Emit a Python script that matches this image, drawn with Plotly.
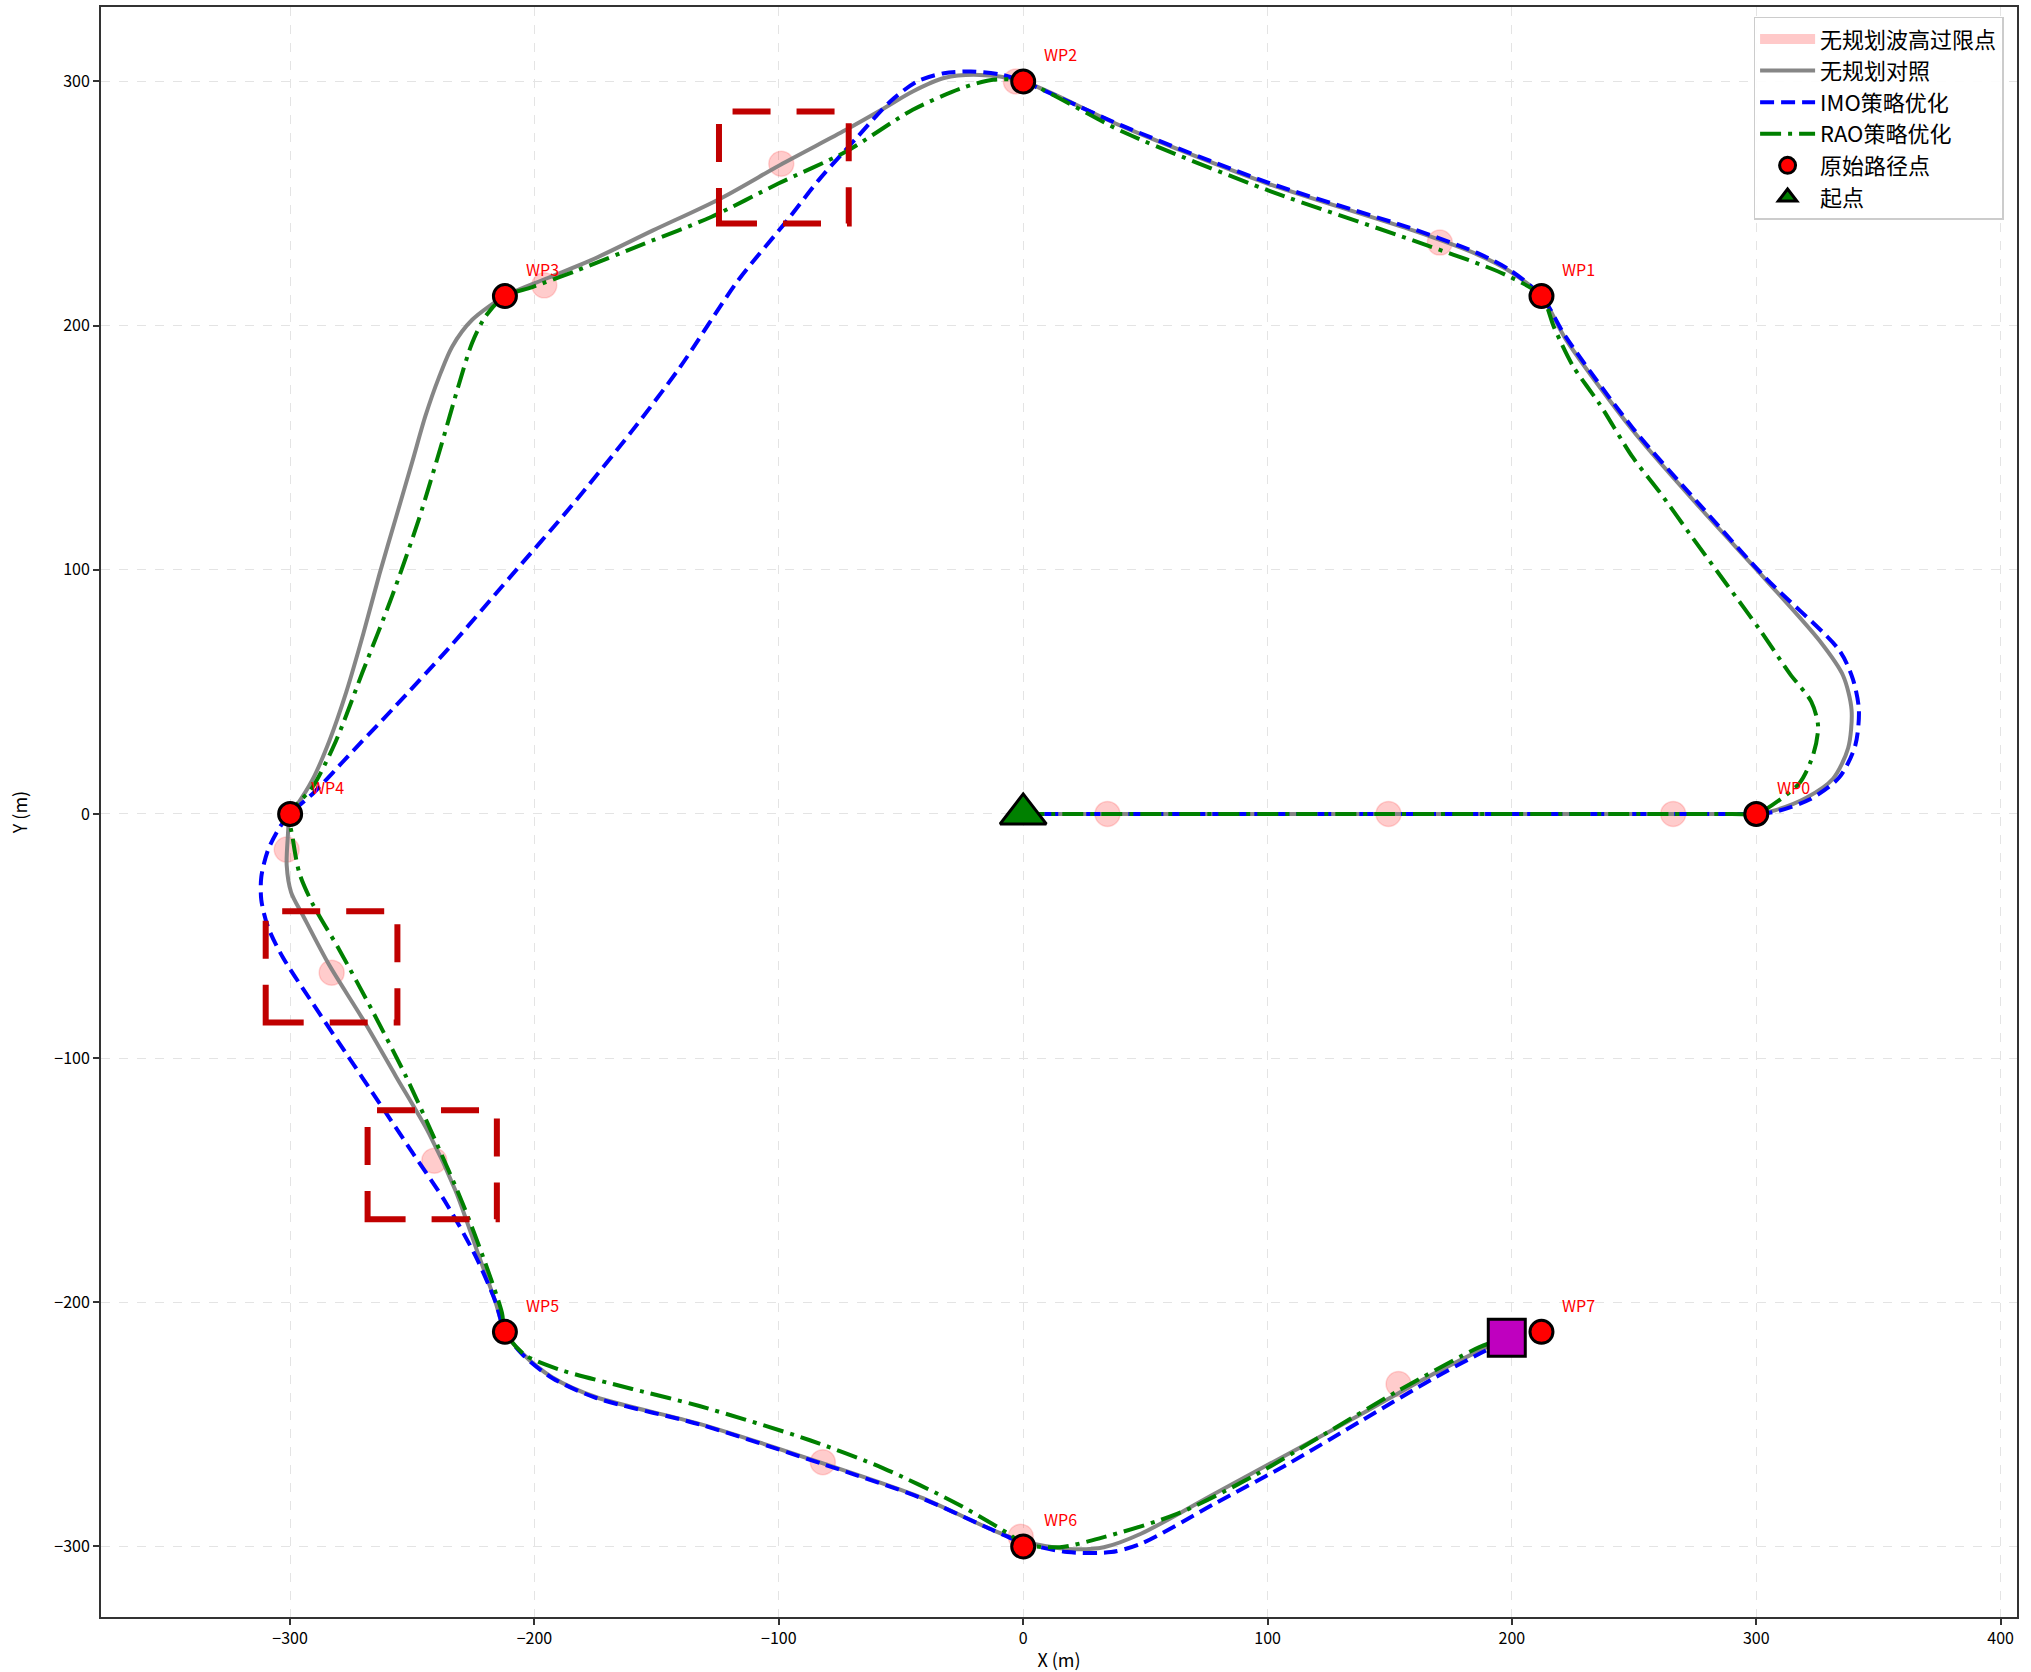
import plotly.graph_objects as go

# waypoints
wp_x = [300, 212.1, 0, -212.1, -300, -212.1, 0, 212.1]
wp_y = [0, 212.1, 300, 212.1, 0, -212.1, -300, -212.1]
wp_names = ["WP0", "WP1", "WP2", "WP3", "WP4", "WP5", "WP6", "WP7"]

start_x, start_y = [0], [0]
end_x, end_y = [197.9], [-214.5]

# 无规划对照
gray_x = [0, 150, 290, 300, 308, 320.5, 331.4, 337.6, 339, 335.5, 326, 304, 276.8, 249.5, 222, 212.1,
          198.8, 185.3, 159.8, 100.5, 41.2, 0,
          -17.8, -32.4, -45.2, -58, -72.7, -98.4, -124, -151.5, -177, -195.4, -212.1,
          -225.5, -233.7, -239.1, -244.6, -250, -256.8, -263.5, -270, -277, -284, -290.8, -297.6, -300,
          -301, -301.4, -299.6, -294.8, -284, -270.4, -256.8, -243.2, -232.3, -222.8, -216, -212.1,
          -204.8, -192.8, -174.7, -132.5, -81.3, -42.2, -12, 0, 18, 33, 48.2, 78.3, 108.4, 138.6,
          162.7, 186.7, 197.9]
gray_y = [0, 0, 0, 0, 1.6, 6.6, 14.4, 27, 42.6, 56.7, 70.8, 95.8, 125.6, 157, 194.5, 212.1,
          222.5, 229.4, 238.9, 258, 281.3, 300,
          302.7, 301.4, 295.9, 288.4, 280.1, 266.4, 252, 239, 226.7, 219.2, 212.1,
          202.4, 191.4, 178.8, 163.1, 144.3, 121, 98, 74, 50, 29.8, 14.1, 3.1, 0,
          -10.2, -21.1, -32.1, -41.5, -61.9, -83.8, -107.3, -130.8, -154.3, -180.9, -199.7, -212.1,
          -221.1, -230.7, -238.9, -249.8, -266.2, -279.8, -293.5, -298, -301, -300.3, -294.8, -278.4,
          -262.1, -245.7, -232.1, -219.8, -214.5]

# IMO策略优化
imo_x = [0, 150, 290, 300, 308, 322, 334, 340.5, 342, 339.6, 334, 304, 277, 249.5, 222, 212.1,
         198.8, 185.3, 159.8, 100.5, 41.2, 0,
         -8.6, -21.4, -32.4, -43.4, -54.4, -69, -83.7, -96.5, -116.7, -140.5, -160, -185, -210, -235,
         -258, -276, -290, -300,
         -304.3, -309.1, -311.8, -311.8, -309.1, -303, -290.8, -277.2, -263.6, -250, -236.4, -224.2,
         -216, -212.1,
         -204.8, -192.8, -174.7, -132.5, -81.3, -42.2, -12, 0, 18, 36, 48.2, 78.3, 108.4, 138.6,
         168.7, 186.7, 197.9]
imo_y = [0, 0, 0, 0, 1, 6, 15, 28, 42.6, 55, 67, 96.5, 126.5, 158, 195.5, 212.1,
         223, 230, 239.5, 258.5, 281.6, 300,
         302.7, 304.1, 303.4, 300, 291.8, 276, 259.6, 243.2, 218.5, 182.9, 157, 126, 97, 68,
         43, 24, 9, 0,
         -5.5, -14.9, -25.8, -35.2, -46.2, -58.7, -77.5, -97.9, -118.2, -138.6, -159, -180.9,
         -199.7, -212.1,
         -221.5, -231, -239.2, -250, -266.5, -280, -293.5, -298.5, -302.3, -302.3, -298.9, -282.5,
         -266.2, -248.4, -230.7, -221.1, -215.5]

# RAO策略优化
rao_x = [0, 150, 290, 300, 304, 317.8, 323.5, 325.3, 322.5, 313.7, 301.4, 287.7, 274, 260.4, 249.5,
         235.8, 224.9, 217.3, 212.1,
         197, 159.8, 100.5, 41.2, 0,
         -12.3, -25, -45.2, -72.7, -100.2, -127.7, -155, -182.6, -200.9, -212.1,
         -220, -225.5, -231, -237.8, -247.3, -258.2, -270.4, -281.3, -290.8, -300,
         -298.9, -296.2, -290.8, -279.9, -266.3, -252.7, -240.5, -229.6, -220.1, -213.3, -212.1,
         -204, -190, -160, -132.5, -87.3, -57.2, -27.1, -6, 0, 15, 33, 63.2, 93.4, 123.5, 153.6,
         186.7, 197.9]
rao_y = [0, 0, 0, 0, 2, 12.8, 25, 36, 46, 57.5, 75.5, 94.3, 113, 131.9, 146,
         168, 183.6, 199.2, 212.1,
         221, 234.8, 255.3, 279.2, 300,
         300.7, 297.3, 288.4, 271.2, 258.2, 244.5, 233.6, 222.6, 215.8, 212.1,
         203.9, 193, 175.7, 152.2, 120.8, 89.4, 58, 29.8, 11, 0,
         -10.2, -24.3, -36.8, -55.6, -80.7, -107.3, -133.9, -159, -184, -204.4, -212.1,
         -221.5, -227.5, -235.5, -242.5, -256.5, -268, -282.5, -294.8, -299, -300.3, -296.2, -286.6,
         -271.6, -253.9, -236.2, -218.4, -214.5]

# 无规划波高过限点
exceed_x = [34.5, 149.5, 266, 170.5, -3, -99, -196, -301.4, -283, -241, -82, -1, 153.6]
exceed_y = [0, 0, 0, 234, 300, 266.3, 216.5, -14.6, -65, -142, -265.5, -296, -233.5]

# highlighted regions (x0, x1, y0, y1)
box_x0 = [-124.5, -310, -268.3]
box_x1 = [-71.4, -256.1, -215.4]
box_y0 = [241.8, -85.4, -166]
box_y1 = [287.7, -39.9, -121.4]

CJK = "Noto Sans CJK SC, DejaVu Sans, sans-serif"

fig = go.Figure()

fig.add_trace(go.Scatter(
    x=[None], y=[None], mode="lines", name="无规划波高过限点",
    line=dict(color="rgba(255,120,120,0.4)", width=14),
))
fig.add_trace(go.Scatter(
    x=exceed_x, y=exceed_y, mode="markers", showlegend=False,
    marker=dict(size=25, color="rgba(255,0,0,0.2)",
                line=dict(color="rgba(255,0,0,0.15)", width=1.5)),
))
fig.add_trace(go.Scatter(
    x=gray_x, y=gray_y, mode="lines", name="无规划对照",
    line=dict(color="rgba(128,128,128,0.95)", width=4, shape="spline", smoothing=0.8),
))
fig.add_trace(go.Scatter(
    x=imo_x, y=imo_y, mode="lines", name="IMO策略优化",
    line=dict(color="#0000ff", width=4, dash="14px,7px", shape="spline", smoothing=0.8),
))
fig.add_trace(go.Scatter(
    x=rao_x, y=rao_y, mode="lines", name="RAO策略优化",
    line=dict(color="#008000", width=4, dash="21px,7px,4px,7px", shape="spline", smoothing=0.8),
))
fig.add_trace(go.Scatter(
    x=wp_x, y=wp_y, mode="markers", name="原始路径点",
    marker=dict(size=23, color="#ff0000", line=dict(color="black", width=3)),
))
fig.add_trace(go.Scatter(
    x=start_x, y=start_y, mode="markers", name="起点",
    marker=dict(size=40, symbol="triangle-up", color="#008000", line=dict(color="black", width=3)),
))
fig.add_trace(go.Scatter(
    x=end_x, y=end_y, mode="markers", showlegend=False,
    marker=dict(size=37, symbol="square", color="#bf00bf", line=dict(color="black", width=3)),
))

for x, y, name in zip(wp_x, wp_y, wp_names):
    fig.add_annotation(x=x, y=y, text=name, showarrow=False, xanchor="left", yanchor="middle",
                       xshift=19, yshift=27, font=dict(color="#ff0000", size=16, family=CJK))

for x0, x1, y0, y1 in zip(box_x0, box_x1, box_y0, box_y1):
    fig.add_shape(type="rect", x0=x0, x1=x1, y0=y0, y1=y1,
                  line=dict(color="#c00000", width=6, dash="38px,26px"))

axis_style = dict(
    showline=True, linecolor="#333333", linewidth=2, mirror=True,
    ticks="outside", ticklen=6, tickcolor="#333333", tickwidth=1.5,
    showgrid=True, gridcolor="#e4e4e4", griddash="dash", gridwidth=1,
    zeroline=False, tickfont=dict(size=16, color="black", family=CJK),
    dtick=100,
)

fig.update_layout(
    width=2031, height=1672,
    margin=dict(l=101, r=14, t=7, b=55),
    paper_bgcolor="white", plot_bgcolor="white",
    font=dict(family=CJK, color="black"),
    xaxis=dict(range=[-377.4, 406.7], title=dict(text="X (m)", font=dict(size=18), standoff=14),
               automargin=False, **axis_style),
    yaxis=dict(range=[-328.9, 330.5], title=dict(text="Y (m)", font=dict(size=18), standoff=22),
               automargin=False, **axis_style),
    legend=dict(x=0.993, y=0.994, xanchor="right", yanchor="top",
                bgcolor="rgba(255,255,255,0.9)", bordercolor="#cccccc", borderwidth=1.5,
                font=dict(size=22, family=CJK), itemwidth=55),
    showlegend=True,
)

fig.write_html("out.html", config={"displayModeBar": False},
               post_script="document.body.style.margin='0';")
